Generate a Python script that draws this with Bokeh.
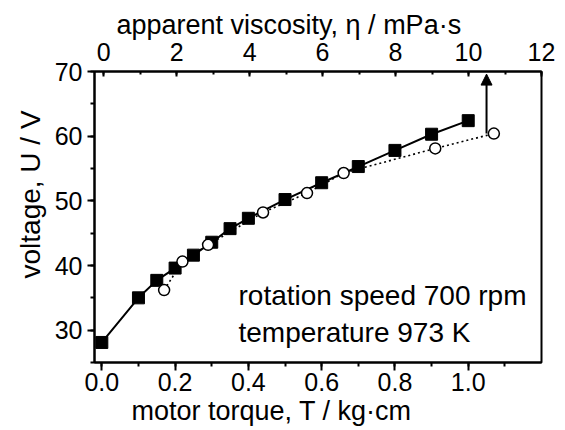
from bokeh.plotting import figure
from bokeh.models import (Range1d, LinearAxis, SingleIntervalTicker, PrintfTickFormatter,
                          Label, Arrow, NormalHead, Title)
from bokeh.embed import file_html
from bokeh.resources import INLINE

# --- data ---
torque_sq = [0.00, 0.10, 0.15, 0.20, 0.25, 0.30, 0.35, 0.40, 0.50, 0.60, 0.70, 0.80, 0.90, 1.00]
voltage_sq = [28.1, 35.0, 37.7, 39.6, 41.6, 43.6, 45.7, 47.3, 50.2, 52.8, 55.3, 57.8, 60.3, 62.4]
torque_ci = [0.17, 0.22, 0.29, 0.44, 0.56, 0.66, 0.91, 1.07]
voltage_ci = [36.2, 40.6, 43.2, 48.2, 51.2, 54.3, 58.1, 60.4]
arrow_T = 1.05
arrow_U = [60.4, 69.6]
notes = ["rotation speed 700 rpm", "temperature 973 K"]
x_title = "motor torque, T / kg·cm"
y_title = "voltage, U / V"
top_title = "apparent viscosity, η / mPa·s"

FONT = "Liberation Sans"

p = figure(width=565, height=430, output_backend="svg", toolbar_location=None,
           x_range=Range1d(-0.02, 1.2), y_range=Range1d(25, 70),
           min_border_left=94, min_border_right=24, min_border_top=71, min_border_bottom=68)
p.xgrid.visible = False
p.ygrid.visible = False
p.outline_line_color = "black"
p.outline_line_width = 2
p.background_fill_color = "white"
p.border_fill_color = "white"

def style(ax, label_size="25px"):
    ax.axis_line_width = 2
    ax.axis_line_color = "black"
    ax.major_tick_line_width = 2
    ax.minor_tick_line_width = 2
    ax.major_tick_line_color = "black"
    ax.minor_tick_line_color = "black"
    ax.major_label_text_font = FONT
    ax.major_label_text_font_size = label_size
    ax.major_label_text_color = "black"

# bottom axis
xb = p.xaxis[0]
xb.ticker = SingleIntervalTicker(interval=0.2, num_minor_ticks=2)
xb.formatter = PrintfTickFormatter(format="%.1f")
style(xb)
xb.major_tick_in = 0
xb.major_tick_out = 8
xb.minor_tick_in = 0
xb.minor_tick_out = 4
xb.major_label_standoff = 2

# left axis
yl = p.yaxis[0]
yl.ticker = SingleIntervalTicker(interval=10, num_minor_ticks=2)
style(yl)
yl.major_tick_in = 0
yl.major_tick_out = 7
yl.minor_tick_in = 0
yl.minor_tick_out = 4
yl.major_label_standoff = 5

# top axis (viscosity)
p.extra_x_ranges = {"eta": Range1d(-0.25, 12)}
xt = LinearAxis(x_range_name="eta", ticker=SingleIntervalTicker(interval=2, num_minor_ticks=2))
style(xt)
xt.major_tick_in = 5
xt.major_tick_out = 0
xt.minor_tick_in = 3
xt.minor_tick_out = 0
xt.major_label_standoff = 11
p.add_layout(xt, "above")

# axis titles as side-panel titles (start offset from the frame edge as in the reference)
def title(text, size, offset, standoff):
    return Title(text=text, align="left", offset=offset, standoff=standoff,
                 text_font=FONT, text_font_size=size, text_font_style="normal",
                 text_color="black")

p.add_layout(title(x_title, "27px", 37, 0), "below")
p.add_layout(title(y_title, "28px", 84, 11), "left")
p.add_layout(title(top_title, "27px", 22, 0), "above")

# series
p.line(torque_sq, voltage_sq, line_color="black", line_width=2)
p.scatter(torque_sq, voltage_sq, marker="square", size=12, fill_color="black", line_color="black")
p.line(torque_ci, voltage_ci, line_color="black", line_width=1.6, line_dash="2 3")
p.scatter(torque_ci, voltage_ci, marker="circle", size=11, fill_color="white",
          line_color="black", line_width=1.5)

p.add_layout(Arrow(x_start=arrow_T, y_start=arrow_U[0], x_end=arrow_T, y_end=arrow_U[1],
                   line_width=2, line_color="black",
                   end=NormalHead(size=11, fill_color="black", line_color="black")))

NOTE_SIZE = "28px"
p.add_layout(Label(x=0.373, y=35.4, text=notes[0], text_font=FONT, text_font_size=NOTE_SIZE,
                   text_color="black", text_baseline="alphabetic"))
p.add_layout(Label(x=0.373, y=29.6, text=notes[1], text_font=FONT, text_font_size=NOTE_SIZE,
                   text_color="black", text_baseline="alphabetic"))

open("out.html", "w").write(file_html(p, INLINE))
